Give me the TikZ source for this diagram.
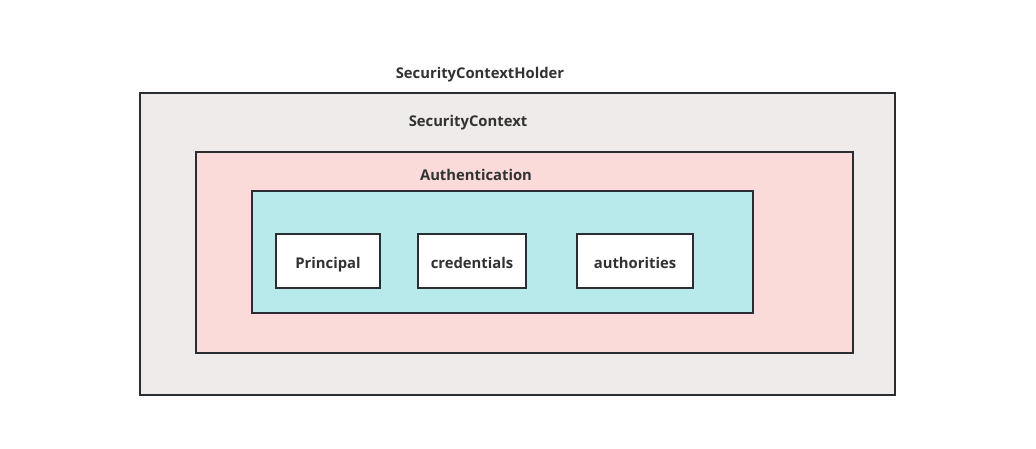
\documentclass[tikz,border=0pt]{standalone}
\usepackage{fontspec}
\setmainfont{Open Sans}
\definecolor{edge}{HTML}{2A2E33}
\definecolor{txt}{HTML}{323232}
\definecolor{outerfill}{HTML}{EFEBEA}
\definecolor{pinkfill}{HTML}{FADBDA}
\definecolor{cyanfill}{HTML}{B8EAEB}
\begin{document}
\begin{tikzpicture}[x=1pt,y=-1pt,
  frame/.style={draw=edge,line width=1.8pt},
  label/.style={font=\fontsize{14.8}{17}\selectfont\bfseries,text=txt,inner sep=0pt},
  leaf/.style={frame,fill=white,minimum height=54pt,font=\fontsize{14.8}{17}\selectfont\bfseries,text=txt,inner sep=0pt,text height=15pt,text depth=0pt}]
\useasboundingbox (0,0) rectangle (1036,448);
\draw[frame,fill=outerfill] (140,93) rectangle (895,395);
\draw[frame,fill=pinkfill] (196,152) rectangle (853,353);
\draw[frame,fill=cyanfill] (252,191) rectangle (753,313);
\node[label] (holder) at (480,75) {SecurityContextHolder};
\node[label] (ctx) at (468,123) {SecurityContext};
\node[label] (auth) at (476,175) {Authentication};
\node[leaf,minimum width=104pt] (principal) at (328,261) {Principal};
\node[leaf,minimum width=108pt] (cred) at (472,261) {credentials};
\node[leaf,minimum width=116pt] (authz) at (635,261) {authorities};
\end{tikzpicture}
\end{document}
